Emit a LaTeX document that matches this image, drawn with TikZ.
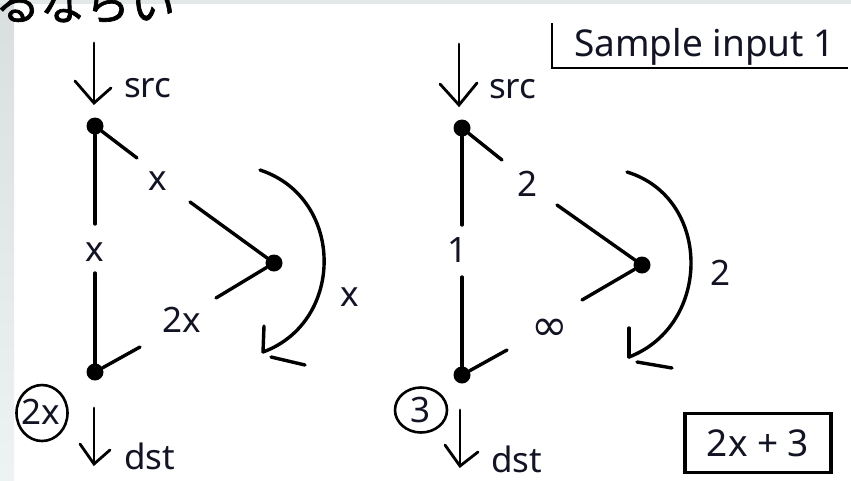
\documentclass[tikz,border=0pt]{standalone}
\usepackage{fontspec}
\setmainfont{Noto Sans}
\newfontfamily\jpfont[FakeBold=1.5]{Noto Sans CJK JP}
\newfontfamily\symfont{DejaVu Sans}
\definecolor{inkc}{rgb}{0.07,0.08,0.14}
\definecolor{stripa}{rgb}{0.85,0.87,0.87}
\definecolor{stripb}{rgb}{0.93,0.95,0.95}
\usetikzlibrary{shapes.geometric}
\tikzset{
  edge/.style={line width=3.4pt, line cap=round},
  flow/.style={line width=2.8pt, line cap=round, line join=miter},
  vtx/.style={circle, fill=black, inner sep=0pt, minimum size=17pt},
  lab/.style={text=inkc, inner sep=0pt, font=\fontsize{35}{40}\selectfont},
  term/.style={text=inkc, inner sep=0pt, anchor=base west, font=\fontsize{35}{40}\selectfont},
  ring/.style={draw=black, line width=2.6pt, ellipse, inner sep=0pt},
}
\begin{document}
\begin{tikzpicture}[x=1pt, y=-1pt]
\path[use as bounding box, clip] (0,0) rectangle (851,480);
\fill[white] (0,0) rectangle (851,480);
\shade[top color=stripa, bottom color=stripb] (0,0) rectangle (14,480);
\fill[stripb!90!gray] (0,0) rectangle (851,4);
\node[anchor=base west, inner sep=0pt, font=\jpfont\fontsize{45}{50}\selectfont] (jp) at (-5,20) {るならい};

% ---------- left network ----------
\node[vtx] (a1) at (95,126) {};
\node[vtx] (b1) at (274,263) {};
\node[vtx] (c1) at (95,372) {};

% source arrow
\coordinate (sa1) at (94,43);
\coordinate (sb1) at (94,103);
\coordinate (sl1) at (75,81);
\coordinate (sr1) at (111,88);
\draw[flow] (sa1) -- (sb1);
\draw[flow] (sl1) -- (sb1) -- (sr1);
\node[term] (src1) at (124,97) {src};

% a -> c (vertical, label in the gap)
\coordinate (v1a) at (95,224);
\coordinate (v1b) at (95,273);
\draw[edge] (a1) -- (v1a);
\draw[edge] (v1b) -- (c1);
\node[lab] (lv1) at (95,252) {x};

% a -> b
\coordinate (e1a) at (137,158);
\coordinate (e1b) at (190,202);
\draw[edge] (a1) -- (e1a);
\draw[edge] (e1b) -- (b1);
\node[lab] (lab1) at (158,181) {x};

% b -> c
\coordinate (f1a) at (216,298);
\coordinate (f1b) at (140,347);
\draw[edge] (b1) -- (f1a);
\draw[edge] (f1b) -- (c1);
\node[lab] (lbc1) at (182,320) {2x};

% curved flow arrow
\coordinate (q1a) at (260,170);
\coordinate (q1b) at (263,352);
\coordinate (h1a) at (264,326);
\coordinate (h1b) at (271,357);
\coordinate (h1c) at (305,365);
\draw[edge] (q1a) .. controls (345,198) and (345,322) .. (q1b);
\draw[edge] (h1a) -- (q1b);
\draw[edge] (h1b) -- (h1c);
\node[lab] (lq1) at (350,297) {x};

% sink arrow
\coordinate (da1) at (94,408);
\coordinate (db1) at (94,464);
\coordinate (dl1) at (80,444);
\coordinate (dr1) at (110,450);
\draw[flow] (da1) -- (db1);
\draw[flow] (dl1) -- (db1) -- (dr1);
\node[term] (dst1) at (124,469) {dst};

\node[ring, minimum width=51pt, minimum height=56pt] (r1) at (42,413) {};
\node[lab] (rv1) at (41,412) {2x};

% ---------- right network ----------
\node[vtx] (a2) at (462,128) {};
\node[vtx] (b2) at (642,265) {};
\node[vtx] (c2) at (462,375) {};

\coordinate (sa2) at (459,44);
\coordinate (sb2) at (459,105);
\coordinate (sl2) at (440,84);
\coordinate (sr2) at (477,83);
\draw[flow] (sa2) -- (sb2);
\draw[flow] (sl2) -- (sb2) -- (sr2);
\node[term] (src2) at (489,98) {src};

\coordinate (v2a) at (462,225);
\coordinate (v2b) at (462,277);
\draw[edge] (a2) -- (v2a);
\draw[edge] (v2b) -- (c2);
\node[lab] (lv2) at (458,250) {1};

\coordinate (e2a) at (502,160);
\coordinate (e2b) at (557,205);
\draw[edge] (a2) -- (e2a);
\draw[edge] (e2b) -- (b2);
\node[lab] (lab2) at (528,184) {2};

\coordinate (f2a) at (582,300);
\coordinate (f2b) at (507,350);
\draw[edge] (b2) -- (f2a);
\draw[edge] (f2b) -- (c2);
\node[lab, font=\symfont\fontsize{44}{48}\selectfont] (lbc2) at (550,330) {∞};

\coordinate (q2a) at (627,172);
\coordinate (q2b) at (629,357);
\coordinate (h2a) at (629,328);
\coordinate (h2b) at (637,362);
\coordinate (h2c) at (672,368);
\draw[edge] (q2a) .. controls (712,198) and (712,325) .. (q2b);
\draw[edge] (h2a) -- (q2b);
\draw[edge] (h2b) -- (h2c);
\node[lab] (lq2) at (720,273) {2};

\coordinate (da2) at (460,410);
\coordinate (db2) at (460,466);
\coordinate (dl2) at (445,445);
\coordinate (dr2) at (478,452);
\draw[flow] (da2) -- (db2);
\draw[flow] (dl2) -- (db2) -- (dr2);
\node[term] (dst2) at (491,472) {dst};

\node[ring, minimum width=52pt, minimum height=45pt] (r2) at (421,410) {};
\node[lab] (rv2) at (421,410) {3};

% ---------- caption and result ----------
\node[text=inkc, inner sep=0pt, anchor=base west, font=\fontsize{37}{44}\selectfont] (cap) at (574,56) {Sample input 1};
\coordinate (u0) at (552,23);
\coordinate (u1) at (552,68);
\coordinate (u2) at (848,68);
\draw[line width=2.8pt] (u0) -- (u1) -- (u2);

\node[draw=black, line width=3.2pt, text=inkc, minimum width=146pt, minimum height=59pt, inner sep=0pt, font=\fontsize{37}{42}\selectfont] (res) at (758,443) {2x + 3};
\end{tikzpicture}
\end{document}
